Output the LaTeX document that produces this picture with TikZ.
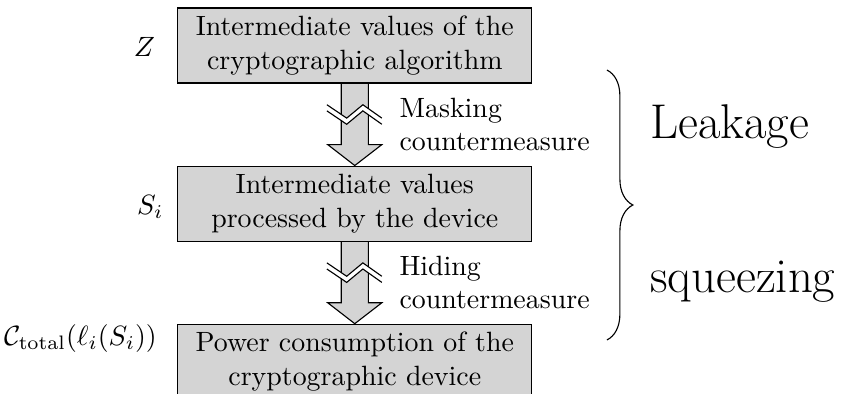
\documentclass[tikz,border=0pt]{standalone}
\usepackage{amsmath}
\usepackage{tikz}
\usetikzlibrary{calc,positioning,decorations.pathreplacing}

\begin{document}
\begin{tikzpicture}[
  x=1pt,y=1pt,
  stage/.style={rectangle,draw=black,fill=black!17,minimum width=126.9pt,minimum height=26.9pt,text width=124pt,align=center,inner sep=0pt},
  sidenote/.style={align=left,anchor=west},
  big/.style={font=\fontsize{17.5}{21}\selectfont,anchor=base west}
]

\def\breakarrow(#1)(#2);{
  \coordinate (t) at (#1.south);
  \coordinate (h) at (#2.north);
  \filldraw[draw=black,fill=black!17] ($(t)+(-4.85,-0.2)$) -- ($(h)+(-4.85,7.5)$) -- ($(h)+(-9.7,7.5)$) -- (h) -- ($(h)+(9.7,7.5)$) -- ($(h)+(4.85,7.5)$) -- ($(t)+(4.85,-0.2)$);
  \fill[white] ($(t)+(-10,-7.6)$) -- ++(7.1,-4.8) -- ++(5.8,4.8) -- ++(6.8,-4.8) -- ++(0,-2.2) -- ++(-6.8,4.8) -- ++(-5.8,-4.8) -- ++(-7.1,4.8) -- cycle;
  \draw ($(t)+(-10,-7.6)$) -- ++(7.1,-4.8) -- ++(5.8,4.8) -- ++(6.8,-4.8);
  \draw ($(t)+(-10,-9.8)$) -- ++(7.1,-4.8) -- ++(5.8,4.8) -- ++(6.8,-4.8);
}

\useasboundingbox (0,0) rectangle (302.6,-141.2);

\node[stage] (alg) at (127.2,-16.3) {Intermediate values of the\\cryptographic algorithm};
\node[stage,below=29.4pt of alg] (dev) {Intermediate values\\processed by the device};
\node[stage,below=29.4pt of dev] (pow) {Power consumption of the\\cryptographic device};

\node[anchor=base east] (z) at ($(alg.west)+(-4.5,-3.8)$) {$Z$};
\node[anchor=base east] (s) at ($(dev.west)+(-1.4,-3.8)$) {$S_i$};
\node[anchor=base east] (c) at ($(pow.west)+(-3.8,5.9)$) {$\mathcal{C}_{\text{total}}(\ell_i(S_i))$};

\breakarrow(alg)(dev);
\breakarrow(dev)(pow);

\coordinate (m1) at ($(alg.south)!0.5!(dev.north)$);
\coordinate (m2) at ($(dev.south)!0.5!(pow.north)$);
\node[sidenote,right=12.5pt of m1] (mask) {Masking\\countermeasure};
\node[sidenote,right=12.5pt of m2] (hide) {Hiding\\countermeasure};

\coordinate (btop) at (217.6,-25.1);
\coordinate (bbot) at (217.6,-121.9);
\draw[decorate,decoration={brace,amplitude=9.3pt}] (btop) -- (bbot);

\node[big] (leak) at (229.6,-49.5) {Leakage};
\node[big] (squeeze) at (229.6,-105) {squeezing};

\end{tikzpicture}
\end{document}
